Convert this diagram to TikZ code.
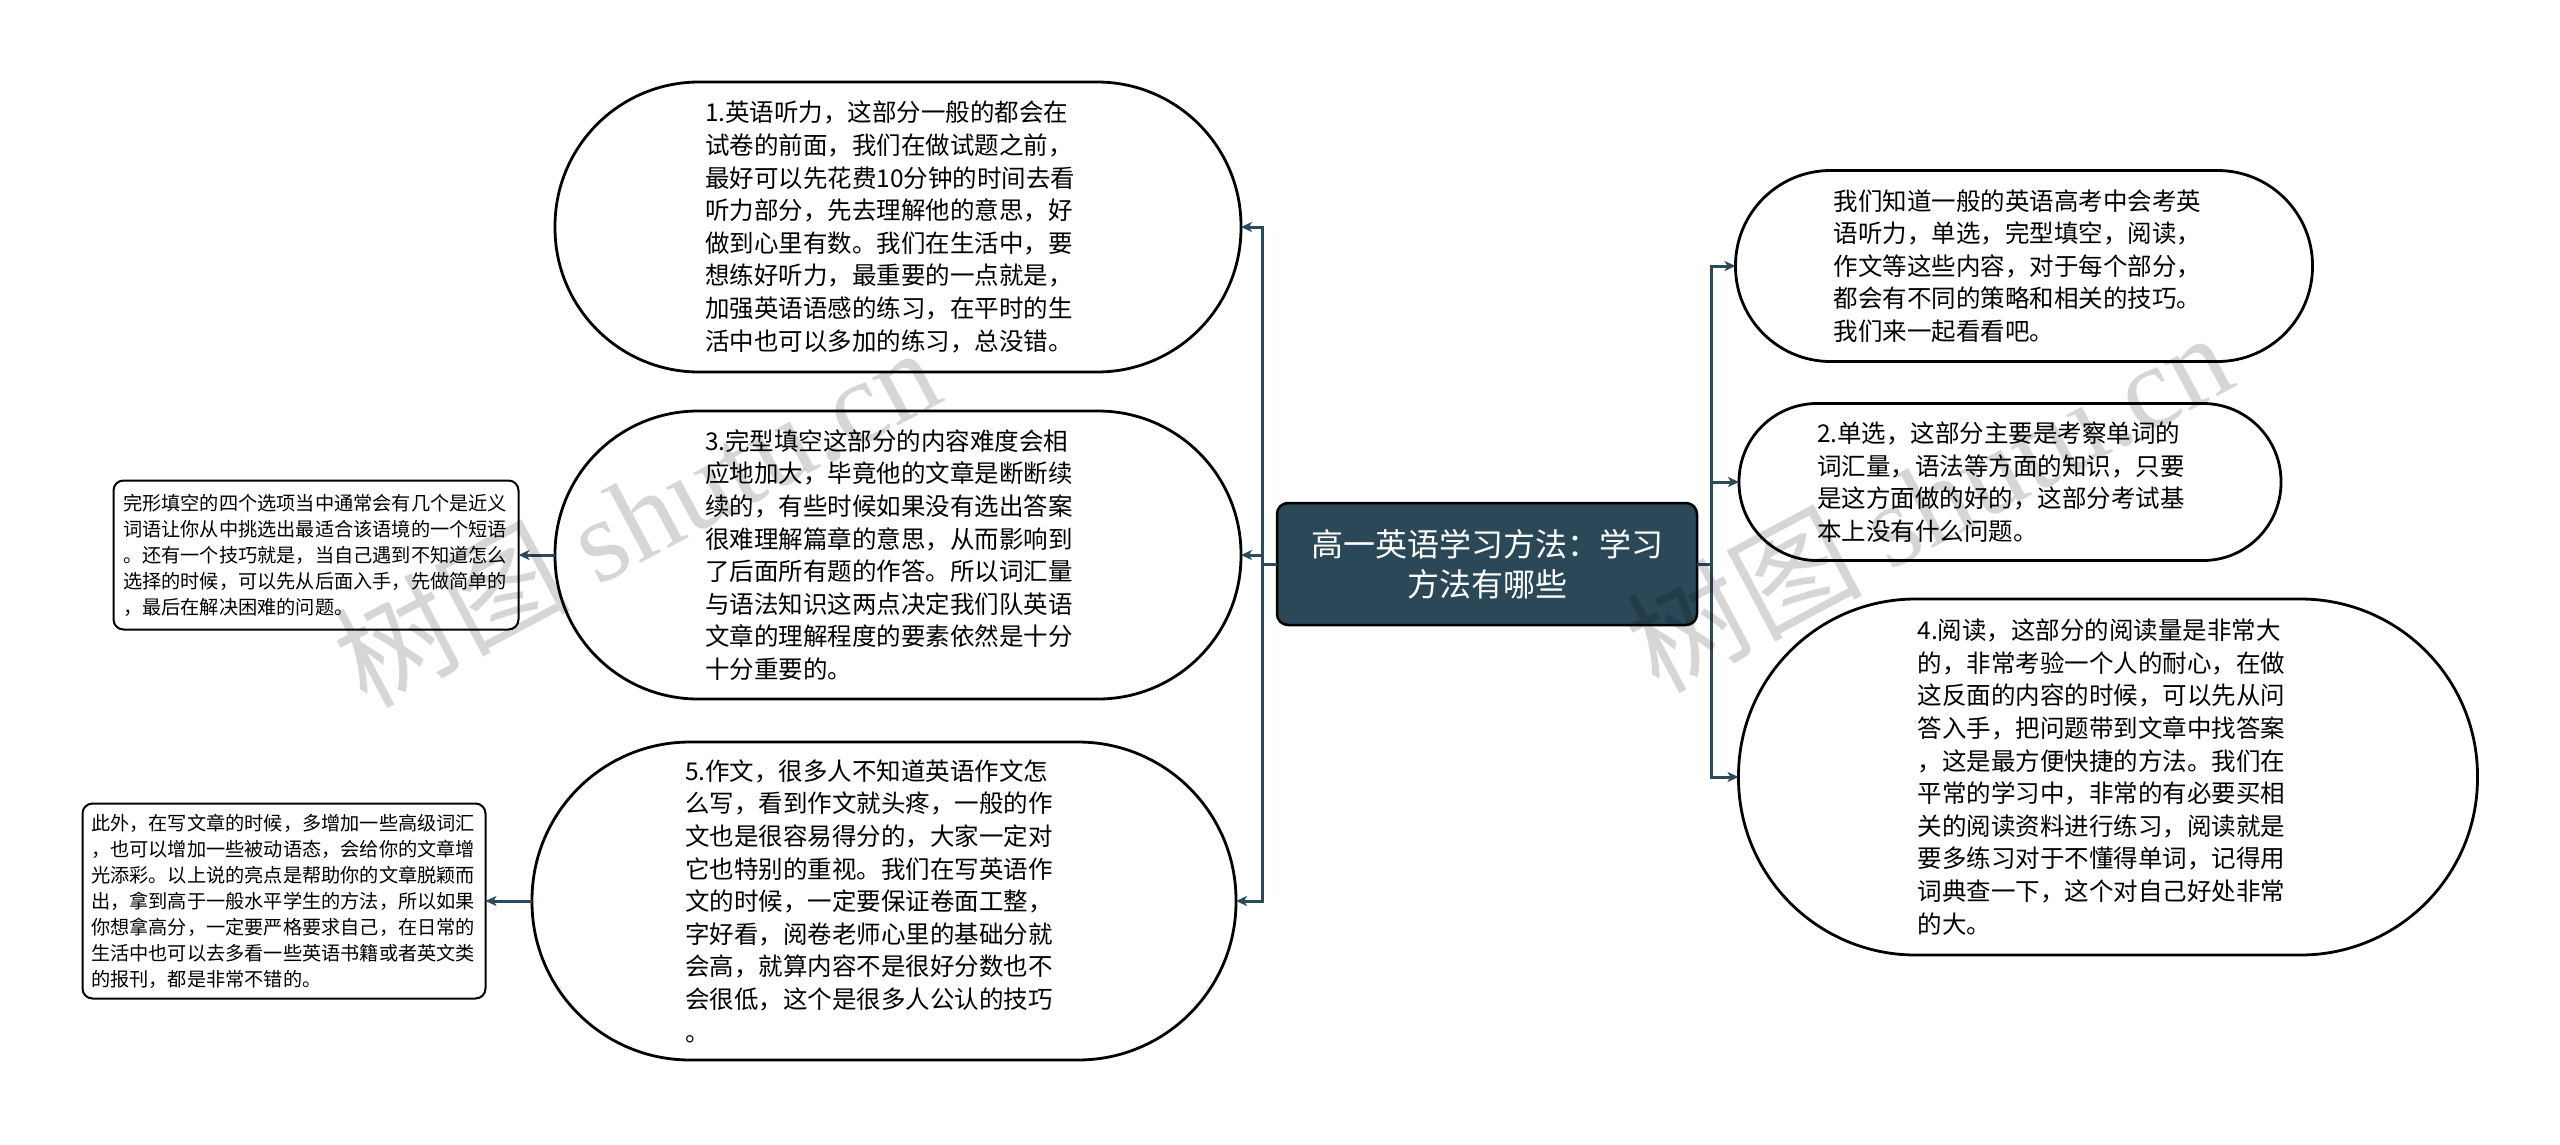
\documentclass[tikz,border=0pt]{standalone}
\usepackage{fontspec}
\setmainfont{Noto Sans CJK SC}
\newfontfamily\wmserif{Liberation Serif}
\usetikzlibrary{arrows.meta}
\definecolor{linec}{HTML}{2B4A5A}
\definecolor{rootfill}{HTML}{2A4857}
\tikzset{
  pill/.style={draw=black, line width=2.8pt, fill=white, inner sep=0pt, outer sep=0pt, align=left,
    font=\fontsize{24.5pt}{32.6pt}\selectfont},
  note/.style={draw=black, line width=2pt, rounded corners=10pt, fill=white, inner sep=0pt, outer sep=0pt,
    align=left, font=\fontsize{19.2pt}{26pt}\selectfont},
  root/.style={draw=black, line width=2.5pt, fill=rootfill, rounded corners=11pt, text=white, inner sep=0pt,
    outer sep=0pt, align=center, font=\fontsize{32pt}{40pt}\selectfont},
  conn/.style={draw=linec, line width=3pt},
  arr/.style={conn, -{Stealth[length=11pt,width=10pt,inset=3pt]}},
  wmark/.style={text=black, opacity=0.16, rotate=28, inner sep=0pt},
}
\begin{document}
\begin{tikzpicture}[x=1pt,y=-1pt]
\fill[white] (0,0) rectangle (2560,1144);
\useasboundingbox (0,0) rectangle (2560,1144);

% root
\node[root, minimum width=420pt, minimum height=122pt] (c) at (1487,564)
  {高一英语学习方法：学习\\方法有哪些};

% left branch
\node[pill, minimum width=686pt, minimum height=290pt, rounded corners=144pt, text width=386pt] (n1) at (898,227)
  {1.英语听力，这部分一般的都会在\\
   试卷的前面，我们在做试题之前，\\
   最好可以先花费10分钟的时间去看\\
   听力部分，先去理解他的意思，好\\
   做到心里有数。我们在生活中，要\\
   想练好听力，最重要的一点就是，\\
   加强英语语感的练习，在平时的生\\
   活中也可以多加的练习，总没错。};

\node[pill, minimum width=686pt, minimum height=288pt, rounded corners=143pt, text width=386pt] (n3) at (898,555)
  {3.完型填空这部分的内容难度会相\\
   应地加大，毕竟他的文章是断断续\\
   续的，有些时候如果没有选出答案\\
   很难理解篇章的意思，从而影响到\\
   了后面所有题的作答。所以词汇量\\
   与语法知识这两点决定我们队英语\\
   文章的理解程度的要素依然是十分\\
   十分重要的。};

\node[pill, minimum width=704pt, minimum height=318pt, rounded corners=158pt, text width=398pt] (n5) at (884,901)
  {5.作文，很多人不知道英语作文怎\\
   么写，看到作文就头疼，一般的作\\
   文也是很容易得分的，大家一定对\\
   它也特别的重视。我们在写英语作\\
   文的时候，一定要保证卷面工整，\\
   字好看，阅卷老师心里的基础分就\\
   会高，就算内容不是很好分数也不\\
   会很低，这个是很多人公认的技巧\\
   。};

\node[note, minimum width=405pt, minimum height=149pt, text width=386pt] (b1) at (316,555)
  {完形填空的四个选项当中通常会有几个是近义\\
   词语让你从中挑选出最适合该语境的一个短语\\
   。还有一个技巧就是，当自己遇到不知道怎么\\
   选择的时候，可以先从后面入手，先做简单的\\
   ，最后在解决困难的问题。};

\node[note, minimum width=403pt, minimum height=195pt, text width=386pt] (b2) at (284,901)
  {此外，在写文章的时候，多增加一些高级词汇\\
   ，也可以增加一些被动语态，会给你的文章增\\
   光添彩。以上说的亮点是帮助你的文章脱颖而\\
   出，拿到高于一般水平学生的方法，所以如果\\
   你想拿高分，一定要严格要求自己，在日常的\\
   生活中也可以去多看一些英语书籍或者英文类\\
   的报刊，都是非常不错的。};

% right branch
\node[pill, minimum width=577pt, minimum height=191pt, rounded corners=95pt, text width=381pt] (na) at (2024,266)
  {我们知道一般的英语高考中会考英\\
   语听力，单选，完型填空，阅读，\\
   作文等这些内容，对于每个部分，\\
   都会有不同的策略和相关的技巧。\\
   我们来一起看看吧。};

\node[pill, minimum width=542pt, minimum height=157pt, rounded corners=78pt, text width=386pt] (nb) at (2010,482)
  {2.单选，这部分主要是考察单词的\\
   词汇量，语法等方面的知识，只要\\
   是这方面做的好的，这部分考试基\\
   本上没有什么问题。};

\node[pill, minimum width=739pt, minimum height=356pt, rounded corners=177pt, text width=381pt] (nc) at (2108,777)
  {4.阅读，这部分的阅读量是非常大\\
   的，非常考验一个人的耐心，在做\\
   这反面的内容的时候，可以先从问\\
   答入手，把问题带到文章中找答案\\
   ，这是最方便快捷的方法。我们在\\
   平常的学习中，非常的有必要买相\\
   关的阅读资料进行练习，阅读就是\\
   要多练习对于不懂得单词，记得用\\
   词典查一下，这个对自己好处非常\\
   的大。};

% connectors
\coordinate (jl) at (1262,564);
\coordinate (jr) at (1711,564);
\draw[conn] (c.west) -- (jl);
\draw[arr] (jl) |- (n1.east);
\draw[arr] (jl) |- (n3.east);
\draw[arr] (jl) |- (n5.east);
\draw[conn] (c.east) -- (jr);
\draw[arr] (jr) |- (na.west);
\draw[arr] (jr) |- (nb.west);
\draw[arr] (jr) |- (nc.west);
\draw[arr] (n3.west) -- (b1.east);
\draw[arr] (n5.west) -- (b2.east);

% watermarks
\node[wmark] (w1) at (636,515) {\fontsize{118pt}{118pt}\selectfont 树图 \wmserif shutu.cn};
\node[wmark] (w2) at (1928,500) {\fontsize{118pt}{118pt}\selectfont 树图 \wmserif shutu.cn};
\end{tikzpicture}
\end{document}
